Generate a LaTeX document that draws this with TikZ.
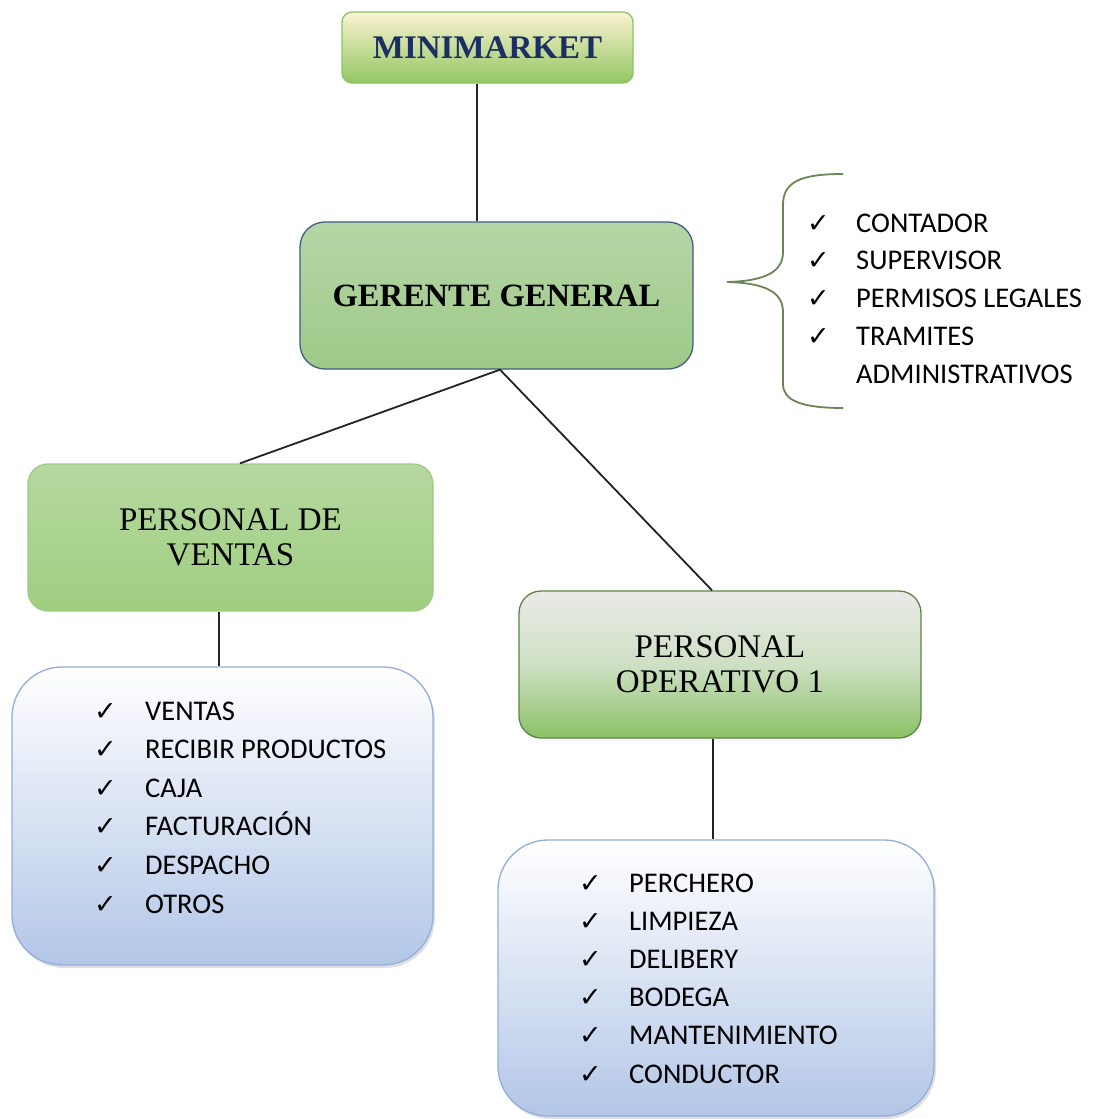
\documentclass[tikz,border=0pt]{standalone}
\usepackage{fontspec}
\setmainfont{Liberation Serif}
\newfontfamily\listfont{Carlito}
\newfontfamily\symfont{DejaVu Sans}
\usetikzlibrary{shadows}

\definecolor{navytxt}{HTML}{1B2F63}
\definecolor{linegray}{HTML}{222222}
\definecolor{bracecol}{HTML}{6A8556}
\definecolor{listedge}{HTML}{93AEDA}
\definecolor{listbot}{HTML}{B3C6E7}
\definecolor{mmedge}{HTML}{8DC268}
\definecolor{mmtop}{HTML}{FCF3D2}
\definecolor{mmbot}{HTML}{92C662}
\definecolor{ggedge}{HTML}{405C80}
\definecolor{ggtop}{HTML}{B5D6A6}
\definecolor{ggbot}{HTML}{9EC988}
\definecolor{pvedge}{HTML}{9CCB82}
\definecolor{pvtop}{HTML}{B5D8A0}
\definecolor{pvbot}{HTML}{A0CE80}
\definecolor{poedge}{HTML}{5E8549}
\definecolor{potop}{HTML}{EAEAE8}
\definecolor{pomid}{HTML}{CEE0C4}
\definecolor{pobot}{HTML}{8BC166}

\newcommand{\ck}{{\symfont\bfseries\fontsize{27}{27}\selectfont ✓}}

\tikzset{
  box/.style={draw, rounded corners=#1, line width=1.3pt, inner sep=0pt, align=center},
  listbox/.style={draw=listedge, line width=1.3pt, rounded corners=50pt, inner sep=0pt,
    top color=white, bottom color=listbot,
    drop shadow={opacity=0.25, shadow xshift=2pt, shadow yshift=-3pt}},
  conn/.style={draw=linegray, line width=1.8pt},
  item/.style={anchor=base west, inner sep=0pt, font=\listfont\fontsize{28.5}{30}\selectfont, text=black},
  tick/.style={anchor=base west, inner sep=0pt, text=black},
}

\begin{document}
\begin{tikzpicture}[x=1pt, y=-1pt]
\useasboundingbox (0,0) rectangle (1094,1119);

% boxes of the chart
\node[box=10pt, draw=mmedge, top color=mmtop, bottom color=mmbot,
      minimum width=291pt, minimum height=71pt, text=navytxt,
      font=\bfseries\fontsize{33}{35}\selectfont] (mm) at (487.5,47.5) {MINIMARKET};

\node[box=25pt, draw=ggedge, top color=ggtop, bottom color=ggbot,
      minimum width=393pt, minimum height=147pt,
      font=\bfseries\fontsize{32.5}{35}\selectfont] (gg) at (496.5,295.5) {\raisebox{-3pt}{GERENTE GENERAL}};

\node[box=20pt, draw=pvedge, top color=pvtop, bottom color=pvbot,
      minimum width=405pt, minimum height=147pt,
      font=\fontsize{33}{35}\selectfont] (pv) at (230.5,537.5) {PERSONAL DE\\VENTAS};

\node[box=22pt, draw=poedge, top color=potop, bottom color=pobot, middle color=pomid,
      minimum width=402pt, minimum height=147pt,
      font=\fontsize{33}{35}\selectfont] (po) at (720,664.5) {PERSONAL\\OPERATIVO 1};

\node[listbox, minimum width=421pt, minimum height=298pt] (ll) at (222.5,816) {};
\node[listbox, minimum width=436pt, minimum height=276pt] (rl) at (716,978) {};

% connectors
\draw[conn] ([xshift=-10.5pt]mm.south) -- ([xshift=-19.5pt]gg.north);
\draw[conn] ([xshift=3.5pt]gg.south) -- ([xshift=9.5pt]pv.north);
\draw[conn] ([xshift=3.5pt]gg.south) -- ([xshift=-8pt]po.north);
\draw[conn] ([xshift=-11.5pt]pv.south) -- ([xshift=-3.5pt]ll.north);
\draw[conn] ([xshift=-7pt]po.south) -- ([xshift=-3pt]rl.north);

% task list of the sales staff
\foreach \t [count=\i] in {VENTAS, RECIBIR PRODUCTOS, CAJA, FACTURACIÓN, DESPACHO, OTROS} {
  \node[tick] (lc\i) at (94, 720+\i*38.6-38.6) {\ck};
  \node[item] (lt\i) at (145, 720+\i*38.6-38.6) {\t};
}

% task list of the operative staff
\foreach \t [count=\i] in {PERCHERO, LIMPIEZA, DELIBERY, BODEGA, MANTENIMIENTO, CONDUCTOR} {
  \node[tick] (rc\i) at (579, 892+\i*38.2-38.2) {\ck};
  \node[item] (rt\i) at (629, 892+\i*38.2-38.2) {\t};
}

% duties attached to the general manager
\draw[bracecol, line width=1.8pt]
  (843,174) .. controls (800,174) and (783,182) .. (783,205) -- (783,252)
  .. controls (783,272) and (765,281) .. (727,282)
  .. controls (765,283) and (783,292) .. (783,312) -- (783,384)
  .. controls (783,400) and (800,408) .. (843,408);
\foreach \t [count=\i] in {CONTADOR, SUPERVISOR, PERMISOS LEGALES, TRAMITES} {
  \node[tick] (gc\i) at (807, 232+\i*37.9-37.9) {\ck};
  \node[item] (gt\i) at (856, 232+\i*37.9-37.9) {\t};
}
\node[item] (gt5) at (856, 383.6) {ADMINISTRATIVOS};
\end{tikzpicture}
\end{document}
